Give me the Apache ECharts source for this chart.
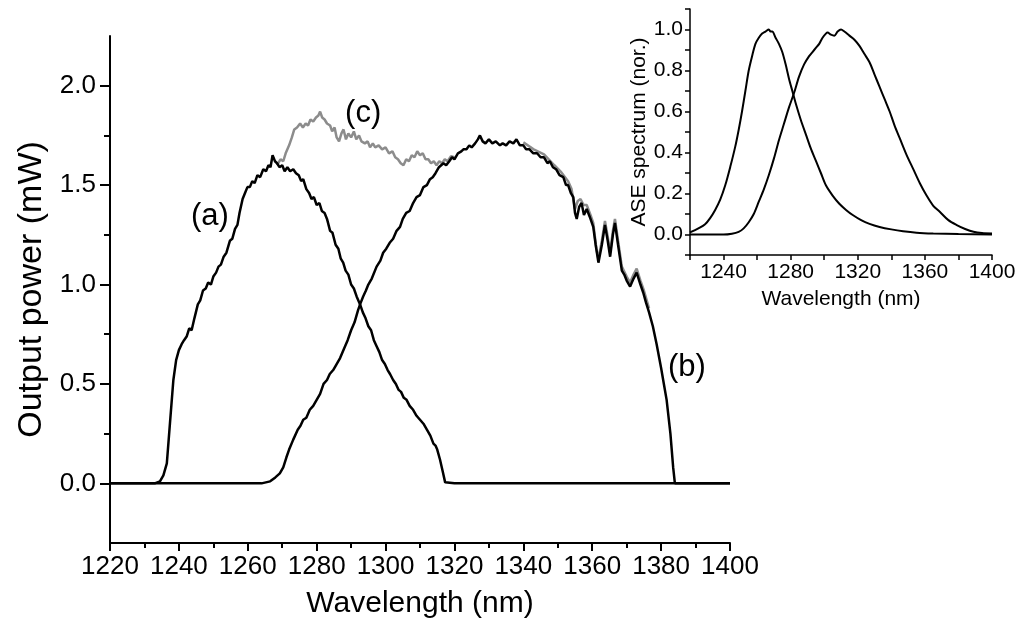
<!DOCTYPE html>
<html>
<head>
<meta charset="utf-8">
<script src="https://cdn.jsdelivr.net/npm/echarts@6/dist/echarts.min.js"></script>
<style>
html,body{margin:0;padding:0;background:#fff;}
#chart{width:1024px;height:631px;}
</style>
</head>
<body>
<div id="chart"></div>
<script>
// ---- Main chart data (wavelength nm, output power mW) ----
const seriesA = [[1220,0],[1233,0],[1234.5,0.01],[1235.5,0.04],[1236.5,0.10],[1237.4,0.30],[1238.4,0.52],[1239.2,0.62],[1240,0.67],[1240.8,0.70],[1241.5,0.72],[1242.3,0.74],[1243,0.78],[1243.7,0.77],[1244.5,0.83],[1245.5,0.90],[1246.2,0.92],[1247,0.97],[1247.8,0.98],[1248.5,1.01],[1249.3,1.00],[1250,1.04],[1250.8,1.06],[1251.5,1.09],[1252.2,1.10],[1253,1.14],[1253.8,1.16],[1254.8,1.22],[1255.5,1.23],[1256.3,1.28],[1257,1.30],[1257.6,1.36],[1258.5,1.43],[1259.2,1.46],[1259.9,1.49],[1260.6,1.49],[1261.3,1.52],[1262,1.51],[1262.8,1.55],[1263.6,1.54],[1264.5,1.58],[1265.3,1.57],[1266,1.60],[1266.6,1.59],[1267.2,1.65],[1267.9,1.62],[1268.5,1.61],[1269.2,1.59],[1270,1.60],[1270.7,1.57],[1271.5,1.59],[1272.3,1.57],[1273.2,1.58],[1274,1.56],[1274.8,1.55],[1275.5,1.52],[1276.1,1.53],[1277,1.48],[1277.8,1.46],[1278.5,1.43],[1279.2,1.44],[1280,1.40],[1280.8,1.41],[1281.5,1.37],[1282.3,1.36],[1283,1.33],[1283.9,1.27],[1284.6,1.26],[1285.5,1.20],[1286.3,1.18],[1287,1.13],[1287.7,1.11],[1288.4,1.07],[1289.2,1.05],[1290,1.00],[1290.8,0.98],[1291.6,0.94],[1292.6,0.90],[1293.4,0.86],[1294.2,0.83],[1295,0.79],[1295.8,0.77],[1296.6,0.72],[1297.4,0.69],[1298.2,0.66],[1299,0.62],[1299.8,0.60],[1300.6,0.57],[1301.3,0.55],[1302.2,0.52],[1303,0.50],[1303.8,0.47],[1304.5,0.46],[1305.3,0.43],[1306.1,0.42],[1307,0.39],[1308,0.37],[1309,0.34],[1310,0.32],[1311,0.30],[1312,0.27],[1313,0.24],[1313.9,0.20],[1314.5,0.19],[1315,0.17],[1315.8,0.12],[1316.6,0.06],[1317.3,0.005],[1320,0],[1400,0]];
const seriesB = [[1220,0],[1264,0],[1266.5,0.01],[1268,0.03],[1269.3,0.05],[1270.3,0.08],[1271.2,0.13],[1272,0.17],[1273.2,0.22],[1274.5,0.27],[1275.3,0.29],[1276.1,0.32],[1277,0.33],[1278,0.37],[1279,0.39],[1280,0.42],[1281,0.45],[1282,0.50],[1283,0.52],[1283.8,0.55],[1284.8,0.57],[1285.8,0.60],[1286.8,0.63],[1288,0.68],[1289,0.72],[1290,0.77],[1291,0.81],[1292,0.87],[1292.6,0.90],[1293.5,0.94],[1294.3,0.97],[1295,1.00],[1296,1.03],[1297.4,1.09],[1298.5,1.12],[1299.3,1.16],[1300.2,1.18],[1301.2,1.21],[1302.2,1.23],[1303.2,1.27],[1304.2,1.29],[1305,1.33],[1306,1.36],[1307,1.37],[1308,1.41],[1309,1.44],[1310,1.45],[1311,1.49],[1312,1.50],[1312.9,1.53],[1313.7,1.54],[1314.5,1.56],[1315.5,1.59],[1316.8,1.61],[1317.6,1.60],[1318.5,1.62],[1319.3,1.64],[1320,1.63],[1321,1.66],[1322,1.67],[1322.6,1.68],[1323.5,1.68],[1324.3,1.70],[1325,1.69],[1326,1.71],[1326.8,1.73],[1327.4,1.75],[1328.2,1.72],[1329,1.71],[1330,1.73],[1331,1.71],[1332,1.72],[1333.2,1.70],[1334,1.71],[1335,1.70],[1336,1.72],[1337.1,1.71],[1338,1.73],[1339,1.70],[1340,1.70],[1340.8,1.68],[1341.8,1.68],[1342.9,1.66],[1344,1.66],[1345,1.64],[1346,1.64],[1347,1.61],[1347.7,1.62],[1348.6,1.59],[1349.5,1.58],[1350.5,1.55],[1351.6,1.54],[1352.4,1.50],[1353,1.50],[1353.8,1.46],[1354.5,1.44],[1355,1.36],[1355.5,1.33],[1356.2,1.39],[1356.9,1.41],[1357.6,1.35],[1358.4,1.38],[1359.3,1.34],[1360.3,1.29],[1361,1.20],[1361.8,1.11],[1362.8,1.20],[1363.7,1.30],[1364.5,1.22],[1365.2,1.14],[1366,1.25],[1366.6,1.31],[1367.5,1.20],[1368.6,1.07],[1369.3,1.05],[1370,1.02],[1371,0.99],[1372,1.03],[1372.9,1.06],[1374,1.00],[1374.8,0.96],[1375.6,0.91],[1376.5,0.86],[1377.6,0.79],[1378.7,0.70],[1380,0.58],[1380.8,0.50],[1381.6,0.42],[1382.7,0.25],[1383.5,0.08],[1384,0],[1400,0]];
const seriesCMid = [[1268.5,1.60],[1269.5,1.63],[1270.3,1.62],[1271,1.66],[1272,1.70],[1272.8,1.74],[1273.5,1.78],[1274.3,1.79],[1275.2,1.81],[1276,1.79],[1276.8,1.81],[1277.5,1.80],[1278.2,1.83],[1279,1.82],[1279.8,1.84],[1280.5,1.85],[1281,1.87],[1281.6,1.84],[1282.3,1.83],[1283,1.81],[1283.9,1.80],[1284.5,1.77],[1285.2,1.79],[1285.8,1.74],[1286.5,1.72],[1287.2,1.76],[1287.8,1.78],[1288.5,1.73],[1289.2,1.76],[1290,1.74],[1290.8,1.77],[1291.5,1.73],[1292.3,1.75],[1293,1.72],[1294,1.71],[1294.8,1.72],[1295.5,1.69],[1296.3,1.71],[1297,1.69],[1298,1.70],[1299,1.68],[1300,1.69],[1301,1.66],[1302,1.67],[1302.8,1.64],[1303.6,1.63],[1304.4,1.61],[1305.2,1.60],[1306,1.63],[1306.8,1.62],[1307.6,1.65],[1308.4,1.64],[1309.2,1.67],[1310,1.65],[1310.8,1.66],[1311.6,1.63],[1312.4,1.63],[1313.2,1.61],[1314,1.62],[1314.8,1.60],[1315.6,1.62],[1316.4,1.61],[1317.2,1.63],[1318,1.62],[1319,1.645],[1320,1.64]];
const seriesCRight = [[1340,1.715],[1343,1.68],[1346,1.655],[1349,1.60],[1351,1.565],[1353,1.52],[1354,1.48],[1355,1.38],[1355.8,1.42],[1356.6,1.43],[1357.5,1.40],[1358.4,1.40],[1359.5,1.35],[1360.3,1.31],[1361.2,1.18],[1361.8,1.13],[1362.8,1.22],[1363.7,1.32],[1364.5,1.24],[1365.2,1.16],[1366,1.27],[1366.6,1.33],[1367.5,1.22],[1368.6,1.09],[1370,1.04],[1371,1.01],[1372,1.05],[1372.9,1.08],[1374,1.02],[1375,0.97],[1376.5,0.88]];
const annotTexts = ['(a)','(b)','(c)'];
const annotX = [1249, 1387.5, 1293.5];
const annotY = [1.34, 0.585, 1.86];
const mainYLabels = [0, 0.5, 1.0, 1.5, 2.0];
const mainYMinor = [0.25, 0.75, 1.25, 1.75];

// ---- Inset data (wavelength nm, normalised ASE) ----
const ase1 = [[1220,0.01],[1225,0.03],[1229,0.05],[1232,0.08],[1235,0.12],[1238,0.17],[1241,0.24],[1244,0.33],[1247,0.43],[1249,0.51],[1251,0.60],[1253,0.70],[1255,0.80],[1257,0.87],[1259,0.93],[1261,0.96],[1263,0.98],[1265,0.99],[1267,1.0],[1268,0.99],[1269,0.99],[1271,0.96],[1273,0.93],[1275,0.89],[1277,0.83],[1279,0.76],[1281,0.70],[1283,0.64],[1286,0.56],[1289,0.49],[1292,0.42],[1295,0.36],[1298,0.30],[1301,0.24],[1305,0.19],[1309,0.15],[1313,0.12],[1317,0.095],[1322,0.07],[1327,0.052],[1333,0.037],[1340,0.025],[1347,0.016],[1355,0.009],[1365,0.005],[1380,0.002],[1400,0]];
const ase2 = [[1220,0],[1240,0],[1245,0.004],[1249,0.013],[1252,0.03],[1255,0.06],[1258,0.10],[1261,0.16],[1264,0.22],[1267,0.29],[1270,0.37],[1273,0.46],[1276,0.54],[1279,0.62],[1282,0.69],[1285,0.77],[1288,0.83],[1291,0.87],[1293,0.89],[1295,0.91],[1297,0.93],[1299,0.96],[1301,0.98],[1302,0.985],[1304,0.975],[1306,0.97],[1308,0.99],[1310,1.0],[1312,0.99],[1315,0.97],[1318,0.95],[1321,0.92],[1324,0.88],[1327,0.84],[1330,0.78],[1333,0.72],[1336,0.66],[1339,0.60],[1342,0.53],[1345,0.47],[1349,0.39],[1353,0.32],[1357,0.25],[1361,0.19],[1365,0.14],[1369,0.11],[1374,0.07],[1379,0.046],[1384,0.027],[1389,0.013],[1394,0.007],[1400,0.005]];

const FONT = 'Liberation Sans, Arial, sans-serif';
const chart = echarts.init(document.getElementById('chart'), null, {renderer:'canvas'});
const axisLineStyle = {color:'#000', width:2};
function lineSeries(name, data, xi, yi, color, width, z, smooth){
  return {type:'line', name:name, xAxisIndex:xi, yAxisIndex:yi, data:data, showSymbol:false, symbol:'none',
    smooth:smooth || false, lineStyle:{color:color, width:width}, z:z, silent:true};
}
const option = {
  animation:false,
  backgroundColor:'#fff',
  grid:[
    {left:110, top:36, width:620, height:507},
    {left:690, top:9, width:302, height:246}
  ],
  xAxis:[
    {type:'value', gridIndex:0, min:1220, max:1400, interval:20,
     axisLine:{show:true, onZero:false, lineStyle:axisLineStyle},
     axisTick:{show:true, length:8, lineStyle:{color:'#000', width:2}},
     minorTick:{show:true, splitNumber:2, length:5, lineStyle:{color:'#000', width:2}},
     splitLine:{show:false},
     axisLabel:{color:'#000', fontSize:26, fontFamily:FONT, margin:11,
       formatter:function(v){return String(Math.round(v));}},
     name:'Wavelength (nm)', nameLocation:'middle', nameGap:46,
     nameTextStyle:{color:'#000', fontSize:30, fontFamily:FONT}},
    {type:'value', gridIndex:1, min:1220, max:1400, interval:20,
     axisLine:{show:true, onZero:false, lineStyle:{color:'#000', width:1.5}},
     axisTick:{show:true, length:5, lineStyle:{color:'#000', width:1.5}},
     splitLine:{show:false},
     axisLabel:{color:'#000', fontSize:21, fontFamily:FONT, margin:7,
       formatter:function(v){return (Math.round(v)%40===0)? String(Math.round(v)) : '';}},
     name:'Wavelength (nm)', nameLocation:'middle', nameGap:34,
     nameTextStyle:{color:'#000', fontSize:21, fontFamily:FONT}}
  ],
  yAxis:[
    {type:'value', gridIndex:0, min:-0.3, max:2.25,
     axisLine:{show:true, onZero:false, lineStyle:axisLineStyle},
     axisTick:{show:true, length:10, customValues:mainYLabels, lineStyle:{color:'#000', width:2}},
     splitLine:{show:false},
     axisLabel:{color:'#000', fontSize:26, fontFamily:FONT, margin:14, customValues:mainYLabels,
       formatter:function(v){return v.toFixed(1);}},
     name:'Output power (mW)', nameLocation:'middle', nameGap:60,
     nameTextStyle:{color:'#000', fontSize:34, fontFamily:FONT}},
    {type:'value', gridIndex:0, min:-0.3, max:2.25, position:'left', offset:0,
     axisLine:{show:false},
     axisTick:{show:true, length:6, customValues:mainYMinor, lineStyle:{color:'#000', width:2}},
     axisLabel:{show:false, customValues:mainYMinor},
     splitLine:{show:false}},
    {type:'value', gridIndex:1, min:-0.1, max:1.1, interval:0.1,
     axisLine:{show:true, onZero:false, lineStyle:{color:'#000', width:1.5}},
     axisTick:{show:true, length:5, lineStyle:{color:'#000', width:1.5}},
     splitLine:{show:false},
     axisLabel:{color:'#000', fontSize:21, fontFamily:FONT, margin:7,
       formatter:function(v){const r=Math.round(v*10); return (r>=0 && r%2===0)? (r/10).toFixed(1) : '';}},
     name:'ASE spectrum (nor.)', nameLocation:'middle', nameGap:40,
     nameTextStyle:{color:'#000', fontSize:21, fontFamily:FONT}}
  ],
  series:[
    lineSeries('c', seriesCMid, 0, 0, '#8c8c8c', 2.5, 2),
    lineSeries('c2', seriesCRight, 0, 0, '#8c8c8c', 2.5, 2),
    lineSeries('a', seriesA, 0, 0, '#000', 2.5, 3),
    lineSeries('b', seriesB, 0, 0, '#000', 2.5, 3),
    {type:'scatter', xAxisIndex:0, yAxisIndex:0, symbolSize:0, silent:true,
     itemStyle:{opacity:1},
     data:annotTexts.map(function(t,i){return {value:[annotX[i], annotY[i]], name:t};}),
     label:{show:true, position:'inside', formatter:'{b}', color:'#000', opacity:1, fontSize:31, fontFamily:FONT}, z:5},
    lineSeries('ase1', ase1, 1, 2, '#000', 2, 3, 0.3),
    lineSeries('ase2', ase2, 1, 2, '#000', 2, 3, 0.3)
  ]
};
chart.setOption(option);
</script>
</body>
</html>
